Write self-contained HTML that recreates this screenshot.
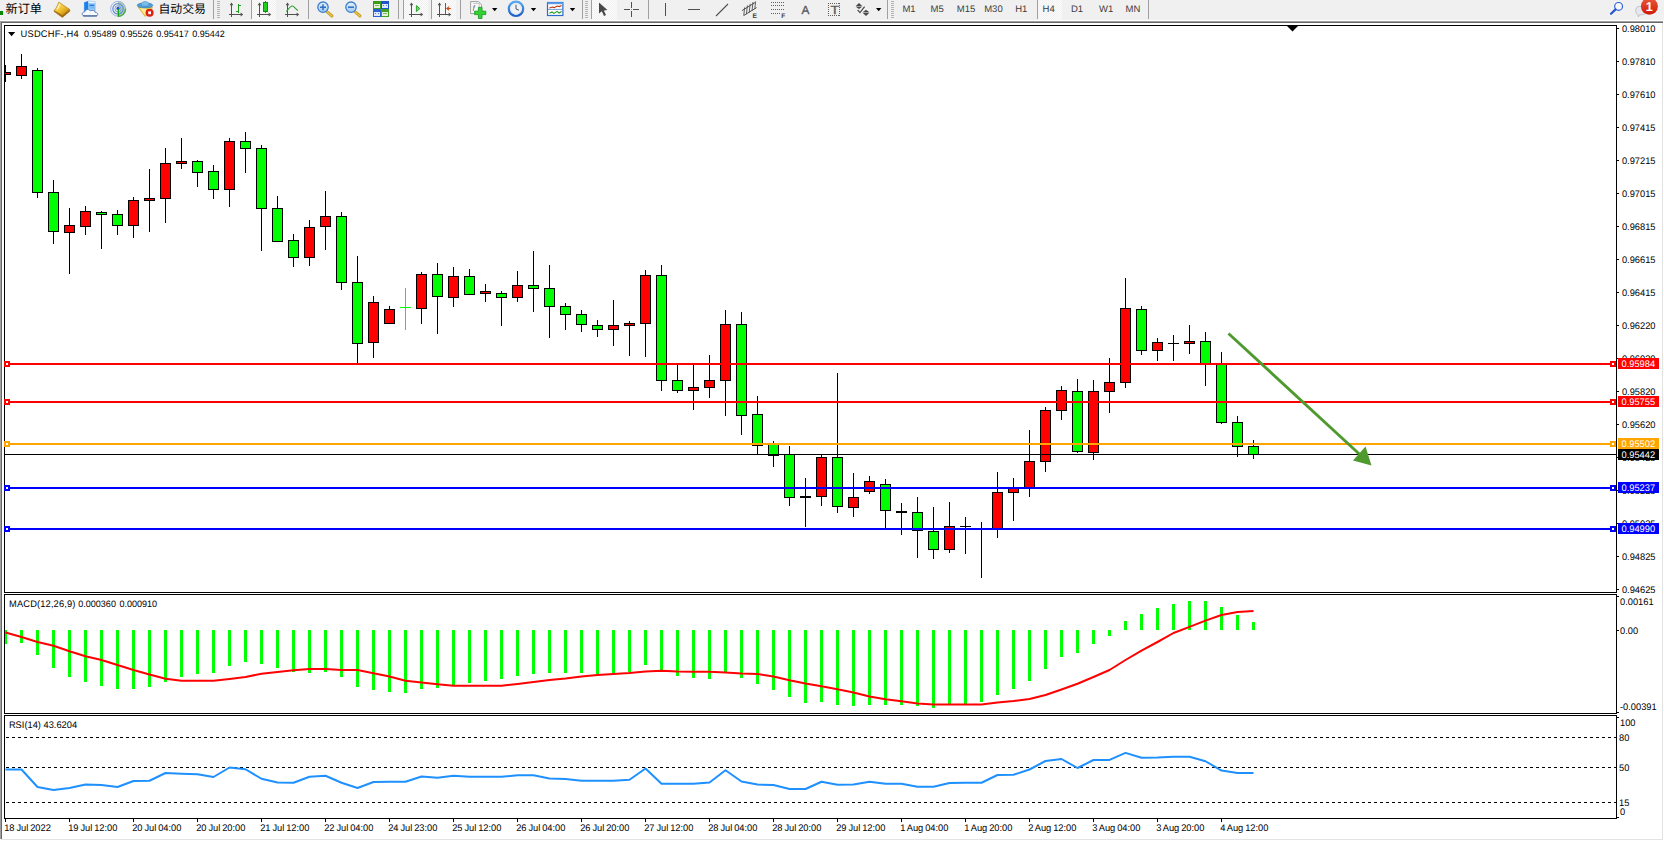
<!DOCTYPE html>
<html lang="zh-CN"><head><meta charset="utf-8"><title>USDCHF-,H4</title>
<style>html,body{margin:0;padding:0;background:#fff;overflow:hidden}svg{display:block}text{font-family:"Liberation Sans","Noto Sans CJK SC",sans-serif;white-space:pre;text-rendering:geometricPrecision}.cr{shape-rendering:crispEdges}</style></head><body>
<svg width="1664" height="841" viewBox="0 0 1664 841">
<g class="cr">
<rect x="0" y="0" width="1664" height="841" fill="#ffffff"/>
<rect x="0" y="0" width="1664" height="20" fill="#f0f0f0"/>
<rect x="0" y="20" width="1664" height="1" fill="#ffffff"/>
<rect x="0" y="21" width="1663" height="1" fill="#a0a0a0"/>
<rect x="0" y="22" width="1" height="817" fill="#a0a0a0"/>
<rect x="1" y="22" width="1662" height="1" fill="#696969"/>
<rect x="1" y="22" width="1" height="817" fill="#696969"/>
<rect x="1662" y="23" width="1" height="817" fill="#e3e3e3"/>
<rect x="1" y="839" width="1662" height="1" fill="#e3e3e3"/>
</g>
<g id="toolbar">
<defs>
<linearGradient id="gGold" x1="0" y1="0" x2="1" y2="1"><stop offset="0" stop-color="#fff2a8"/><stop offset=".5" stop-color="#f2c12e"/><stop offset="1" stop-color="#b97a08"/></linearGradient>
<linearGradient id="gBlue" x1="0" y1="0" x2="0" y2="1"><stop offset="0" stop-color="#5aa7ee"/><stop offset="1" stop-color="#1b5fc4"/></linearGradient>
<linearGradient id="gRed" x1="0" y1="0" x2="0" y2="1"><stop offset="0" stop-color="#ea5a3a"/><stop offset="1" stop-color="#d01808"/></linearGradient>
<linearGradient id="gLens" x1="0" y1="0" x2="0" y2="1"><stop offset="0" stop-color="#e8f3fd"/><stop offset="1" stop-color="#9fc9f1"/></linearGradient>
<pattern id="sel" width="2" height="2" patternUnits="userSpaceOnUse"><rect width="2" height="2" fill="#fcfcfc"/><rect width="1" height="1" fill="#f1f1f1"/><rect x="1" y="1" width="1" height="1" fill="#f1f1f1"/></pattern>
</defs>
<!-- selected button backgrounds -->
<g class="cr">
<rect x="252" y="0" width="24" height="20" fill="url(#sel)"/>
<rect x="404" y="0" width="24" height="20" fill="url(#sel)"/>
<rect x="432" y="0" width="24" height="20" fill="url(#sel)"/>
<rect x="592" y="0" width="25" height="20" fill="url(#sel)"/>
<rect x="1038" y="0" width="24" height="20" fill="url(#sel)"/>
<!-- separators -->
<g fill="#a0a0a0">
<rect x="213" y="0" width="1" height="19"/>
<rect x="251" y="0" width="1" height="19"/>
<rect x="308" y="0" width="1" height="19"/>
<rect x="398" y="0" width="1" height="19"/>
<rect x="403" y="0" width="1" height="19"/>
<rect x="431" y="0" width="1" height="19"/>
<rect x="460" y="0" width="1" height="19"/>
<rect x="582" y="0" width="1" height="19"/>
<rect x="591" y="0" width="1" height="19"/>
<rect x="648" y="0" width="1" height="19"/>
<rect x="887" y="0" width="1" height="19"/>
<rect x="1037" y="0" width="1" height="19"/>
<rect x="1148" y="0" width="1" height="19"/>
</g>
<!-- grips -->
<g fill="#b4b4b4">
<rect x="217" y="1" width="3" height="1"/><rect x="217" y="3" width="3" height="1"/><rect x="217" y="5" width="3" height="1"/><rect x="217" y="7" width="3" height="1"/><rect x="217" y="9" width="3" height="1"/><rect x="217" y="11" width="3" height="1"/><rect x="217" y="13" width="3" height="1"/><rect x="217" y="15" width="3" height="1"/><rect x="217" y="17" width="3" height="1"/>
<rect x="585" y="1" width="3" height="1"/><rect x="585" y="3" width="3" height="1"/><rect x="585" y="5" width="3" height="1"/><rect x="585" y="7" width="3" height="1"/><rect x="585" y="9" width="3" height="1"/><rect x="585" y="11" width="3" height="1"/><rect x="585" y="13" width="3" height="1"/><rect x="585" y="15" width="3" height="1"/><rect x="585" y="17" width="3" height="1"/>
<rect x="891" y="1" width="3" height="1"/><rect x="891" y="3" width="3" height="1"/><rect x="891" y="5" width="3" height="1"/><rect x="891" y="7" width="3" height="1"/><rect x="891" y="9" width="3" height="1"/><rect x="891" y="11" width="3" height="1"/><rect x="891" y="13" width="3" height="1"/><rect x="891" y="15" width="3" height="1"/><rect x="891" y="17" width="3" height="1"/>
</g>
</g>
<!-- new order (cut off) -->
<rect class="cr" x="0" y="11" width="3" height="4" fill="#078a07"/>
<text x="5.5" y="13.1" font-size="12.2" fill="#000">新订单</text>
<!-- gold book -->
<g>
<path d="M54.2 11.6 L62.4 17.4 L69.8 11.2 L69.6 9.4 L62.2 15 L54.4 10.2 Z" fill="#a86c0a" stroke="#8a5606" stroke-width=".5" stroke-linejoin="round"/>
<path d="M54.2 10.6 C56.2 8.6 57.6 5 58.8 2.2 L69.6 9.4 L62.3 15.2 Z" fill="url(#gGold)" stroke="#b07a0c" stroke-width=".7" stroke-linejoin="round"/>
<path d="M57 9.4 C58.2 7.6 59 5.6 59.8 3.8" stroke="#fff6c8" stroke-width="1.3" fill="none" opacity=".85"/>
</g>
<!-- server / cloud -->
<g>
<path d="M84.4 2.6 L88.2 1.2 L95 1.6 L95 11.6 L84.4 11.6 Z" fill="#9ccdf6" stroke="#2d7fe0" stroke-width=".5"/>
<path d="M84.4 2.6 L88.2 1.2 L88.2 11.6 L84.4 11.6 Z" fill="#1580ee"/>
<path d="M88.2 1.2 L95 1.6 L95 3.2 L88.2 2.8 Z" fill="#e8f4ff"/>
<rect x="89.4" y="4.6" width="4.6" height="1.6" fill="#2a78d8"/>
<rect x="89.4" y="7.4" width="4.6" height="1" fill="#6aa8e8"/>
<path d="M85 16.2 C81.2 16.2 81.4 11.8 84.8 11.8 C85.4 9 89.4 8.8 90.4 11 C92.2 9.6 95 10.4 95.2 12.4 C98.6 12.4 98.6 16.2 95.4 16.2 Z" fill="#f6f9fe" stroke="#5878b0" stroke-width=".9"/>
<path d="M83 15.8 L97 15.8" stroke="#3e5e9c" stroke-width="1"/>
</g>
<!-- signal -->
<g fill="none">
<path d="M118 8.8 L118 16.6 A7.8 7.8 0 0 0 125.8 8.8 A7.8 7.8 0 0 0 118 1 Z" fill="#7fba7f" opacity=".55" stroke="none"/>
<circle cx="118" cy="8.8" r="7.4" stroke="#9fb4dc" stroke-width="1"/>
<circle cx="118" cy="8.8" r="5.2" stroke="#5f8ad8" stroke-width="1.2"/>
<circle cx="118" cy="8.8" r="3.1" stroke="#7fa0e0" stroke-width="1"/>
<path d="M118 16.4 A7.6 7.6 0 0 0 125.6 8.8" stroke="#4aa84a" stroke-width="1.4"/>
<circle cx="118" cy="8.4" r="1.6" fill="#1f56cc" stroke="none"/>
<path d="M118.3 9 L118.3 16.6" stroke="#18a418" stroke-width="1.4"/>
</g>
<!-- expert hat -->
<g>
<path d="M138.2 7.2 L145.2 16.6 L152.6 7.6 Z" fill="#f6d84a" stroke="#caa018" stroke-width=".6"/>
<path d="M140 8 L145.4 15 L146 8 Z" fill="#fff3a8" opacity=".8"/>
<ellipse cx="145" cy="5.4" rx="7.8" ry="2.6" fill="#4f9fd8" stroke="#2f74b4" stroke-width=".6"/>
<path d="M141.2 5.2 C141.2 .2 149 .2 149 5.2 C147 6.4 143 6.4 141.2 5.2 Z" fill="#7dbdea" stroke="#3c82c4" stroke-width=".5"/>
<circle cx="149.6" cy="12.8" r="4" fill="#dc2010"/>
<rect x="148.2" y="11.4" width="2.8" height="2.8" fill="#fff"/>
</g>
<text x="158.4" y="13.1" font-size="11.9" fill="#000">自动交易</text>
<!-- chart type icons -->
<g class="cr">
<g fill="#505050">
<rect x="231" y="4" width="1" height="13"/><rect x="229" y="14" width="13" height="1"/>
<rect x="259" y="4" width="1" height="13"/><rect x="257" y="14" width="13" height="1"/>
<rect x="287" y="4" width="1" height="13"/><rect x="285" y="14" width="13" height="1"/>
<rect x="411" y="4" width="1" height="13"/><rect x="409" y="14" width="13" height="1"/>
<rect x="439" y="4" width="1" height="13"/><rect x="437" y="14" width="13" height="1"/>
</g>
<g fill="#1e9e1e">
<rect x="238" y="4" width="1" height="9"/><rect x="238" y="5" width="3" height="1"/><rect x="236" y="11" width="3" height="1"/>
<rect x="265" y="1" width="1" height="12"/>
</g>
<rect x="263.5" y="2.5" width="4" height="9" fill="#1ed01e" stroke="#138a13" stroke-width="1"/>
<rect x="445" y="3" width="1" height="11" fill="#1c6fb0"/>
</g>
<g fill="#505050">
<path d="M231.5 2.6 L229.6 5.2 L233.4 5.2 Z"/><path d="M243.2 14.5 L240.6 12.6 L240.6 16.4 Z"/>
<path d="M259.5 2.6 L257.6 5.2 L261.4 5.2 Z"/><path d="M271.2 14.5 L268.6 12.6 L268.6 16.4 Z"/>
<path d="M287.5 2.6 L285.6 5.2 L289.4 5.2 Z"/><path d="M299.2 14.5 L296.6 12.6 L296.6 16.4 Z"/>
<path d="M411.5 2.6 L409.6 5.2 L413.4 5.2 Z"/><path d="M423.2 14.5 L420.6 12.6 L420.6 16.4 Z"/>
<path d="M439.5 2.6 L437.6 5.2 L441.4 5.2 Z"/><path d="M451.2 14.5 L448.6 12.6 L448.6 16.4 Z"/>
</g>
<path d="M286.4 11.6 C289 8 291 5.6 292.6 6 C294.4 6.4 295.6 9 298 10.4" fill="none" stroke="#2a9a2a" stroke-width="1.1"/>
<path d="M416.4 5.6 L419.8 8.6 L416.4 11.6 Z" fill="#6fd86f" stroke="#1e9e1e" stroke-width=".9"/>
<path d="M450.8 8.5 L446.8 8.5 M449.2 6.6 L446.8 8.5 L449.2 10.4" fill="none" stroke="#d04a10" stroke-width="1.1"/>
<!-- zoom in / out -->
<g>
<path d="M326.6 11.4 L332 16" stroke="#c9a227" stroke-width="3" stroke-linecap="round"/>
<path d="M326.6 11.4 L332 16" stroke="#f0d56a" stroke-width="1" stroke-linecap="round"/>
<circle cx="323" cy="7.2" r="5.2" fill="url(#gLens)" stroke="#3a7fcf" stroke-width="1.3"/>
<path d="M320 7.2 L326 7.2 M323 4.2 L323 10.2" stroke="#2a6fc4" stroke-width="1.5"/>
<path d="M354.6 11.4 L360 16" stroke="#c9a227" stroke-width="3" stroke-linecap="round"/>
<path d="M354.6 11.4 L360 16" stroke="#f0d56a" stroke-width="1" stroke-linecap="round"/>
<circle cx="351" cy="7.2" r="5.2" fill="url(#gLens)" stroke="#3a7fcf" stroke-width="1.3"/>
<path d="M348 7.2 L354 7.2" stroke="#2a6fc4" stroke-width="1.5"/>
</g>
<!-- tile windows -->
<g class="cr">
<rect x="373" y="1" width="8" height="8" fill="#3a9a1a"/><rect x="381" y="1" width="8" height="8" fill="#1f55c8"/>
<rect x="373" y="9" width="8" height="8" fill="#2a62d4"/><rect x="381" y="9" width="8" height="8" fill="#3f9f1f"/>
<rect x="374" y="4" width="6" height="4" fill="#e4f2dc"/><rect x="382" y="4" width="6" height="4" fill="#dfe8fa"/>
<rect x="374" y="12" width="6" height="4" fill="#dfe8fa"/><rect x="382" y="12" width="6" height="4" fill="#e4f2dc"/>
<rect x="375" y="5" width="4" height="1" fill="#7ab868"/><rect x="383" y="5" width="1" height="1" fill="#5a80d8"/><rect x="386" y="5" width="1" height="1" fill="#5a80d8"/>
<rect x="375" y="13" width="1" height="1" fill="#5a80d8"/><rect x="378" y="13" width="1" height="1" fill="#5a80d8"/><rect x="383" y="13" width="4" height="1" fill="#7ab868"/>
</g>
<!-- indicators (doc + plus) -->
<g>
<path d="M470.6 1.6 L478.4 1.6 L481.6 4.8 L481.6 13.6 L470.6 13.6 Z" fill="#f8f8f8" stroke="#8a8a8a" stroke-width=".8"/>
<path d="M473.4 3.4 L479.2 3.4 L479.2 12" fill="none" stroke="#b0b0b0" stroke-width=".7"/>
<text x="472.4" y="11" font-size="8" fill="#666" font-style="italic">f</text>
<path d="M474.6 11.2 H478.4 V7.4 H482 V11.2 H485.8 V14.6 H482 V18.4 H478.4 V14.6 H474.6 Z" fill="#2fd42f" stroke="#12941a" stroke-width=".8" stroke-linejoin="round"/>
</g>
<!-- dropdown arrows -->
<g fill="#000">
<path d="M492 8.1 L497.4 8.1 L494.7 11.3 Z"/>
<path d="M530.8 8.1 L536.2 8.1 L533.5 11.3 Z"/>
<path d="M569.8 8.1 L575.2 8.1 L572.5 11.3 Z"/>
<path d="M876 8.1 L881.4 8.1 L878.7 11.3 Z"/>
</g>
<!-- clock -->
<g>
<circle cx="516" cy="8.8" r="7.2" fill="#f4f8fc" stroke="url(#gBlue)" stroke-width="2.2"/>
<circle cx="516" cy="8.8" r="5.4" fill="#eef3f9" stroke="#c8d4e4" stroke-width=".5"/>
<path d="M516 4.8 L516 9 L519 10.2" fill="none" stroke="#555" stroke-width="1"/>
</g>
<!-- templates -->
<g>
<rect x="547.5" y="2.5" width="15.4" height="13" fill="#fff" stroke="#2a6ccc" stroke-width="1.2"/>
<rect x="547.5" y="2.2" width="15.4" height="2" fill="#5a9ae6"/>
<path d="M548 9.4 L563 9.4" stroke="#4a86d6" stroke-width=".8"/>
<path d="M549.4 8 L552.4 7 L554.4 7.6 L557 6 L559.4 6.6 L561.6 5.6" fill="none" stroke="#c0300c" stroke-width="1.1"/>
<path d="M549.4 13.2 L552 12 L554 13.4 L557 11.4 L559 13 L561.6 11.6" fill="none" stroke="#1e9e1e" stroke-width="1.1"/>
</g>
<!-- cursor -->
<path d="M599 2.4 L599 13.6 L601.8 11.2 L604 16 L606 15 L603.8 10.4 L607.4 10 Z" fill="#484848"/>
<!-- crosshair -->
<g class="cr" fill="#505050">
<rect x="631" y="2" width="1" height="6"/><rect x="631" y="11" width="1" height="6"/>
<rect x="624" y="9" width="6" height="1"/><rect x="633" y="9" width="6" height="1"/>
<rect x="631" y="9" width="1" height="1" fill="#909090"/>
<rect x="665" y="3" width="1" height="13"/>
<rect x="688" y="9" width="12" height="1"/>
</g>
<path d="M716 16 L728 4" stroke="#505050" stroke-width="1.1" fill="none"/>
<!-- channel -->
<g stroke="#505050" stroke-width="1" fill="none">
<path d="M742 10.6 L755 2.6 M743.6 15.6 L756.6 7.6"/>
<path d="M744.6 7.4 L743.8 15.4 M747.4 5.4 L746.4 14.2 M750.2 3.8 L749.2 12.6 M753 2 L752 11 M755.6 1.4 L754.8 9" stroke-width=".9"/>
</g>
<text x="752.6" y="18" font-size="6.6" font-weight="bold" fill="#404040">E</text>
<!-- fibo -->
<g class="cr" stroke="#606060" stroke-width="1" stroke-dasharray="1 1" fill="none">
<line x1="771" y1="2.5" x2="784" y2="2.5"/><line x1="771" y1="5.5" x2="784" y2="5.5"/><line x1="771" y1="9.5" x2="784" y2="9.5"/><line x1="771" y1="13.5" x2="781" y2="13.5"/>
</g>
<text x="781.2" y="18" font-size="6.6" font-weight="bold" fill="#404040">F</text>
<!-- A / T -->
<text x="801.4" y="13.7" font-size="11.8" fill="#585858" stroke="#585858" stroke-width=".3">A</text>
<g class="cr" stroke="#606060" stroke-width="1" stroke-dasharray="1 1" fill="none"><line x1="828" y1="3.5" x2="840" y2="3.5"/><line x1="828" y1="15.5" x2="840" y2="15.5"/><line x1="828.5" y1="3" x2="828.5" y2="16"/><line x1="839.5" y1="3" x2="839.5" y2="16"/></g>
<text x="830.4" y="13.5" font-size="11.8" fill="#585858" stroke="#585858" stroke-width=".3" textLength="8.6" lengthAdjust="spacingAndGlyphs">T</text>
<!-- arrows object -->
<g fill="#484848">
<path d="M859 3 L862.4 6.2 L855.6 6.2 Z"/><path d="M855.6 6.8 L862.4 6.8 L859 9.4 Z" opacity=".0"/>
<path d="M866 16 L862.6 12.8 L869.4 12.8 Z"/><path d="M862.6 12.2 L869.4 12.2 L866 9.8 Z"/>
<path d="M855.8 6.8 L862.2 6.8 L859 9 Z"/>
<path d="M857.6 9.8 L860 12.6 L864.6 6.6" fill="none" stroke="#484848" stroke-width="1.2"/>
</g>
<!-- timeframes -->
<g font-size="9.5" fill="#3c3c3c">
<text x="902.4" y="12.4">M1</text>
<text x="930.6" y="12.4">M5</text>
<text x="956.8" y="12.4">M15</text>
<text x="984.2" y="12.4">M30</text>
<text x="1015.2" y="12.4">H1</text>
<text x="1042.6" y="12.4">H4</text>
<text x="1071" y="12.4">D1</text>
<text x="1099" y="12.4">W1</text>
<text x="1125.6" y="12.4">MN</text>
</g>
<!-- search -->
<g>
<circle cx="1618.6" cy="6.4" r="3.9" fill="#f6f8fc" stroke="#2a5fd8" stroke-width="1.2"/>
<path d="M1615.6 9.4 L1611 13.8" stroke="#2456cc" stroke-width="2.2" stroke-linecap="round"/>
</g>
<!-- chat + badge -->
<g>
<path d="M1636.4 8 C1637 5.6 1646 5.6 1646.6 9 L1646.6 12 C1646 14.6 1641 15 1639.6 14.8 L1638.4 17 L1637.8 14.6 C1635.4 13.6 1635.4 10 1636.4 8 Z" fill="#e6e8ee" stroke="#b4b8c2" stroke-width=".8"/>
<circle cx="1649.4" cy="6.2" r="8.5" fill="url(#gRed)"/>
<text x="1649.2" y="11" font-size="12.6" font-weight="bold" fill="#fff" text-anchor="middle">1</text>
</g>
</g>

<g class="cr" fill="#000">
<rect x="4" y="25" width="1613" height="1" fill="#000"/>
<rect x="4" y="25" width="1" height="568" fill="#000"/>
<rect x="4" y="592" width="1613" height="1" fill="#000"/>
<rect x="1616" y="25" width="1" height="568" fill="#000"/>
<rect x="4" y="594" width="1613" height="1" fill="#000"/>
<rect x="4" y="594" width="1" height="120" fill="#000"/>
<rect x="4" y="713" width="1613" height="1" fill="#000"/>
<rect x="1616" y="594" width="1" height="120" fill="#000"/>
<rect x="4" y="715" width="1613" height="1" fill="#000"/>
<rect x="4" y="715" width="1" height="104" fill="#000"/>
<rect x="4" y="818" width="1613" height="1" fill="#000"/>
<rect x="1616" y="715" width="1" height="104" fill="#000"/>
</g>
<g class="cr">
<rect x="1617" y="28" width="2" height="1" fill="#000"/>
<rect x="1617" y="61" width="2" height="1" fill="#000"/>
<rect x="1617" y="94" width="2" height="1" fill="#000"/>
<rect x="1617" y="127" width="2" height="1" fill="#000"/>
<rect x="1617" y="160" width="2" height="1" fill="#000"/>
<rect x="1617" y="193" width="2" height="1" fill="#000"/>
<rect x="1617" y="226" width="2" height="1" fill="#000"/>
<rect x="1617" y="259" width="2" height="1" fill="#000"/>
<rect x="1617" y="292" width="2" height="1" fill="#000"/>
<rect x="1617" y="325" width="2" height="1" fill="#000"/>
<rect x="1617" y="358" width="2" height="1" fill="#000"/>
<rect x="1617" y="391" width="2" height="1" fill="#000"/>
<rect x="1617" y="424" width="2" height="1" fill="#000"/>
<rect x="1617" y="457" width="2" height="1" fill="#000"/>
<rect x="1617" y="490" width="2" height="1" fill="#000"/>
<rect x="1617" y="523" width="2" height="1" fill="#000"/>
<rect x="1617" y="556" width="2" height="1" fill="#000"/>
<rect x="1617" y="589" width="2" height="1" fill="#000"/>
<rect x="1617" y="596" width="2" height="1" fill="#000"/>
<rect x="1617" y="630" width="2" height="1" fill="#000"/>
<rect x="1617" y="712" width="2" height="1" fill="#000"/>
<rect x="1617" y="717" width="2" height="1" fill="#000"/>
<rect x="1617" y="817" width="2" height="1" fill="#000"/>
</g>
<g>
<text transform="translate(1621.9 31.8) scale(1 1.03)" font-size="9.3" fill="#000" text-anchor="start">0.98010</text>
<text transform="translate(1621.9 64.8) scale(1 1.03)" font-size="9.3" fill="#000" text-anchor="start">0.97810</text>
<text transform="translate(1621.9 97.8) scale(1 1.03)" font-size="9.3" fill="#000" text-anchor="start">0.97610</text>
<text transform="translate(1621.9 130.8) scale(1 1.03)" font-size="9.3" fill="#000" text-anchor="start">0.97415</text>
<text transform="translate(1621.9 163.8) scale(1 1.03)" font-size="9.3" fill="#000" text-anchor="start">0.97215</text>
<text transform="translate(1621.9 196.8) scale(1 1.03)" font-size="9.3" fill="#000" text-anchor="start">0.97015</text>
<text transform="translate(1621.9 229.8) scale(1 1.03)" font-size="9.3" fill="#000" text-anchor="start">0.96815</text>
<text transform="translate(1621.9 262.8) scale(1 1.03)" font-size="9.3" fill="#000" text-anchor="start">0.96615</text>
<text transform="translate(1621.9 295.8) scale(1 1.03)" font-size="9.3" fill="#000" text-anchor="start">0.96415</text>
<text transform="translate(1621.9 328.8) scale(1 1.03)" font-size="9.3" fill="#000" text-anchor="start">0.96220</text>
<text transform="translate(1621.9 361.8) scale(1 1.03)" font-size="9.3" fill="#000" text-anchor="start">0.96020</text>
<text transform="translate(1621.9 394.8) scale(1 1.03)" font-size="9.3" fill="#000" text-anchor="start">0.95820</text>
<text transform="translate(1621.9 427.8) scale(1 1.03)" font-size="9.3" fill="#000" text-anchor="start">0.95620</text>
<text transform="translate(1621.9 460.8) scale(1 1.03)" font-size="9.3" fill="#000" text-anchor="start">0.95425</text>
<text transform="translate(1621.9 493.8) scale(1 1.03)" font-size="9.3" fill="#000" text-anchor="start">0.95225</text>
<text transform="translate(1621.9 526.8) scale(1 1.03)" font-size="9.3" fill="#000" text-anchor="start">0.95025</text>
<text transform="translate(1621.9 559.8) scale(1 1.03)" font-size="9.3" fill="#000" text-anchor="start">0.94825</text>
<text transform="translate(1621.9 592.8) scale(1 1.03)" font-size="9.3" fill="#000" text-anchor="start">0.94625</text>
<text transform="translate(1620.0 605) scale(1 1.03)" font-size="9.3" fill="#000" text-anchor="start">0.00161</text>
<text transform="translate(1620.0 633.8) scale(1 1.03)" font-size="9.3" fill="#000" text-anchor="start">0.00</text>
<text transform="translate(1620.0 709.9) scale(1 1.03)" font-size="9.3" fill="#000" text-anchor="start">-0.00391</text>
<text transform="translate(1620.0 725.8) scale(1 1.03)" font-size="9.3" fill="#000" text-anchor="start">100</text>
<text transform="translate(1619 740.8) scale(1 1.03)" font-size="9.3" fill="#000" text-anchor="start">80</text>
<text transform="translate(1619 770.8) scale(1 1.03)" font-size="9.3" fill="#000" text-anchor="start">50</text>
<text transform="translate(1619 805.9) scale(1 1.03)" font-size="9.3" fill="#000" text-anchor="start">15</text>
<text transform="translate(1620.0 814.8) scale(1 1.03)" font-size="9.3" fill="#000" text-anchor="start">0</text>
</g>
<g class="cr">
<rect x="5" y="819" width="1" height="3" fill="#000"/>
<rect x="69" y="819" width="1" height="3" fill="#000"/>
<rect x="133" y="819" width="1" height="3" fill="#000"/>
<rect x="197" y="819" width="1" height="3" fill="#000"/>
<rect x="261" y="819" width="1" height="3" fill="#000"/>
<rect x="325" y="819" width="1" height="3" fill="#000"/>
<rect x="389" y="819" width="1" height="3" fill="#000"/>
<rect x="453" y="819" width="1" height="3" fill="#000"/>
<rect x="517" y="819" width="1" height="3" fill="#000"/>
<rect x="581" y="819" width="1" height="3" fill="#000"/>
<rect x="645" y="819" width="1" height="3" fill="#000"/>
<rect x="709" y="819" width="1" height="3" fill="#000"/>
<rect x="773" y="819" width="1" height="3" fill="#000"/>
<rect x="837" y="819" width="1" height="3" fill="#000"/>
<rect x="901" y="819" width="1" height="3" fill="#000"/>
<rect x="965" y="819" width="1" height="3" fill="#000"/>
<rect x="1029" y="819" width="1" height="3" fill="#000"/>
<rect x="1093" y="819" width="1" height="3" fill="#000"/>
<rect x="1157" y="819" width="1" height="3" fill="#000"/>
<rect x="1221" y="819" width="1" height="3" fill="#000"/>
</g>
<g>
<text transform="translate(4.2 830.9) scale(1 1.03)" font-size="9.3" fill="#000" text-anchor="start" word-spacing="-0.7">18 Jul 2022</text>
<text transform="translate(68.2 830.9) scale(1 1.03)" font-size="9.3" fill="#000" text-anchor="start" word-spacing="-0.7">19 Jul 12:00</text>
<text transform="translate(132.2 830.9) scale(1 1.03)" font-size="9.3" fill="#000" text-anchor="start" word-spacing="-0.7">20 Jul 04:00</text>
<text transform="translate(196.2 830.9) scale(1 1.03)" font-size="9.3" fill="#000" text-anchor="start" word-spacing="-0.7">20 Jul 20:00</text>
<text transform="translate(260.2 830.9) scale(1 1.03)" font-size="9.3" fill="#000" text-anchor="start" word-spacing="-0.7">21 Jul 12:00</text>
<text transform="translate(324.2 830.9) scale(1 1.03)" font-size="9.3" fill="#000" text-anchor="start" word-spacing="-0.7">22 Jul 04:00</text>
<text transform="translate(388.2 830.9) scale(1 1.03)" font-size="9.3" fill="#000" text-anchor="start" word-spacing="-0.7">24 Jul 23:00</text>
<text transform="translate(452.2 830.9) scale(1 1.03)" font-size="9.3" fill="#000" text-anchor="start" word-spacing="-0.7">25 Jul 12:00</text>
<text transform="translate(516.2 830.9) scale(1 1.03)" font-size="9.3" fill="#000" text-anchor="start" word-spacing="-0.7">26 Jul 04:00</text>
<text transform="translate(580.2 830.9) scale(1 1.03)" font-size="9.3" fill="#000" text-anchor="start" word-spacing="-0.7">26 Jul 20:00</text>
<text transform="translate(644.2 830.9) scale(1 1.03)" font-size="9.3" fill="#000" text-anchor="start" word-spacing="-0.7">27 Jul 12:00</text>
<text transform="translate(708.2 830.9) scale(1 1.03)" font-size="9.3" fill="#000" text-anchor="start" word-spacing="-0.7">28 Jul 04:00</text>
<text transform="translate(772.2 830.9) scale(1 1.03)" font-size="9.3" fill="#000" text-anchor="start" word-spacing="-0.7">28 Jul 20:00</text>
<text transform="translate(836.2 830.9) scale(1 1.03)" font-size="9.3" fill="#000" text-anchor="start" word-spacing="-0.7">29 Jul 12:00</text>
<text transform="translate(900.2 830.9) scale(1 1.03)" font-size="9.3" fill="#000" text-anchor="start" word-spacing="-0.7">1 Aug 04:00</text>
<text transform="translate(964.2 830.9) scale(1 1.03)" font-size="9.3" fill="#000" text-anchor="start" word-spacing="-0.7">1 Aug 20:00</text>
<text transform="translate(1028.2 830.9) scale(1 1.03)" font-size="9.3" fill="#000" text-anchor="start" word-spacing="-0.7">2 Aug 12:00</text>
<text transform="translate(1092.2 830.9) scale(1 1.03)" font-size="9.3" fill="#000" text-anchor="start" word-spacing="-0.7">3 Aug 04:00</text>
<text transform="translate(1156.2 830.9) scale(1 1.03)" font-size="9.3" fill="#000" text-anchor="start" word-spacing="-0.7">3 Aug 20:00</text>
<text transform="translate(1220.2 830.9) scale(1 1.03)" font-size="9.3" fill="#000" text-anchor="start" word-spacing="-0.7">4 Aug 12:00</text>
</g>
<g class="cr">
<rect x="5" y="65" width="1" height="17" fill="#000"/>
<rect x="5" y="72" width="6" height="3" fill="#000"/>
<rect x="5" y="73" width="5" height="1" fill="#ff0000"/>
<rect x="21" y="54" width="1" height="25" fill="#000"/>
<rect x="16" y="66" width="11" height="10" fill="#000"/>
<rect x="17" y="67" width="9" height="8" fill="#ff0000"/>
<rect x="37" y="68" width="1" height="130" fill="#000"/>
<rect x="32" y="70" width="11" height="123" fill="#000"/>
<rect x="33" y="71" width="9" height="121" fill="#00ff00"/>
<rect x="53" y="180" width="1" height="64" fill="#000"/>
<rect x="48" y="192" width="11" height="40" fill="#000"/>
<rect x="49" y="193" width="9" height="38" fill="#00ff00"/>
<rect x="69" y="208" width="1" height="66" fill="#000"/>
<rect x="64" y="225" width="11" height="8" fill="#000"/>
<rect x="65" y="226" width="9" height="6" fill="#ff0000"/>
<rect x="85" y="206" width="1" height="29" fill="#000"/>
<rect x="80" y="211" width="11" height="16" fill="#000"/>
<rect x="81" y="212" width="9" height="14" fill="#ff0000"/>
<rect x="101" y="211" width="1" height="38" fill="#000"/>
<rect x="96" y="212" width="11" height="3" fill="#000"/>
<rect x="97" y="213" width="9" height="1" fill="#00ff00"/>
<rect x="117" y="210" width="1" height="25" fill="#000"/>
<rect x="112" y="214" width="11" height="12" fill="#000"/>
<rect x="113" y="215" width="9" height="10" fill="#00ff00"/>
<rect x="133" y="197" width="1" height="41" fill="#000"/>
<rect x="128" y="200" width="11" height="26" fill="#000"/>
<rect x="129" y="201" width="9" height="24" fill="#ff0000"/>
<rect x="149" y="169" width="1" height="63" fill="#000"/>
<rect x="144" y="198" width="11" height="3" fill="#000"/>
<rect x="145" y="199" width="9" height="1" fill="#ff0000"/>
<rect x="165" y="148" width="1" height="75" fill="#000"/>
<rect x="160" y="163" width="11" height="36" fill="#000"/>
<rect x="161" y="164" width="9" height="34" fill="#ff0000"/>
<rect x="181" y="138" width="1" height="31" fill="#000"/>
<rect x="176" y="161" width="11" height="3" fill="#000"/>
<rect x="177" y="162" width="9" height="1" fill="#ff0000"/>
<rect x="197" y="160" width="1" height="27" fill="#000"/>
<rect x="192" y="161" width="11" height="12" fill="#000"/>
<rect x="193" y="162" width="9" height="10" fill="#00ff00"/>
<rect x="213" y="165" width="1" height="34" fill="#000"/>
<rect x="208" y="171" width="11" height="19" fill="#000"/>
<rect x="209" y="172" width="9" height="17" fill="#00ff00"/>
<rect x="229" y="138" width="1" height="69" fill="#000"/>
<rect x="224" y="141" width="11" height="49" fill="#000"/>
<rect x="225" y="142" width="9" height="47" fill="#ff0000"/>
<rect x="245" y="132" width="1" height="41" fill="#000"/>
<rect x="240" y="141" width="11" height="8" fill="#000"/>
<rect x="241" y="142" width="9" height="6" fill="#00ff00"/>
<rect x="261" y="145" width="1" height="106" fill="#000"/>
<rect x="256" y="148" width="11" height="61" fill="#000"/>
<rect x="257" y="149" width="9" height="59" fill="#00ff00"/>
<rect x="277" y="196" width="1" height="46" fill="#000"/>
<rect x="272" y="208" width="11" height="34" fill="#000"/>
<rect x="273" y="209" width="9" height="32" fill="#00ff00"/>
<rect x="293" y="234" width="1" height="33" fill="#000"/>
<rect x="288" y="240" width="11" height="18" fill="#000"/>
<rect x="289" y="241" width="9" height="16" fill="#00ff00"/>
<rect x="309" y="220" width="1" height="46" fill="#000"/>
<rect x="304" y="227" width="11" height="31" fill="#000"/>
<rect x="305" y="228" width="9" height="29" fill="#ff0000"/>
<rect x="325" y="191" width="1" height="59" fill="#000"/>
<rect x="320" y="216" width="11" height="11" fill="#000"/>
<rect x="321" y="217" width="9" height="9" fill="#ff0000"/>
<rect x="341" y="212" width="1" height="78" fill="#000"/>
<rect x="336" y="216" width="11" height="67" fill="#000"/>
<rect x="337" y="217" width="9" height="65" fill="#00ff00"/>
<rect x="357" y="256" width="1" height="107" fill="#000"/>
<rect x="352" y="282" width="11" height="62" fill="#000"/>
<rect x="353" y="283" width="9" height="60" fill="#00ff00"/>
<rect x="373" y="296" width="1" height="62" fill="#000"/>
<rect x="368" y="302" width="11" height="41" fill="#000"/>
<rect x="369" y="303" width="9" height="39" fill="#ff0000"/>
<rect x="389" y="306" width="1" height="18" fill="#000"/>
<rect x="384" y="309" width="11" height="15" fill="#000"/>
<rect x="385" y="310" width="9" height="13" fill="#ff0000"/>
<rect x="405" y="288" width="1" height="42" fill="#00ff00"/>
<rect x="400" y="307" width="11" height="1" fill="#00ff00"/>
<rect x="421" y="272" width="1" height="52" fill="#000"/>
<rect x="416" y="274" width="11" height="35" fill="#000"/>
<rect x="417" y="275" width="9" height="33" fill="#ff0000"/>
<rect x="437" y="263" width="1" height="71" fill="#000"/>
<rect x="432" y="274" width="11" height="23" fill="#000"/>
<rect x="433" y="275" width="9" height="21" fill="#00ff00"/>
<rect x="453" y="267" width="1" height="40" fill="#000"/>
<rect x="448" y="276" width="11" height="22" fill="#000"/>
<rect x="449" y="277" width="9" height="20" fill="#ff0000"/>
<rect x="469" y="269" width="1" height="26" fill="#000"/>
<rect x="464" y="276" width="11" height="19" fill="#000"/>
<rect x="465" y="277" width="9" height="17" fill="#00ff00"/>
<rect x="485" y="284" width="1" height="18" fill="#000"/>
<rect x="480" y="291" width="11" height="3" fill="#000"/>
<rect x="481" y="292" width="9" height="1" fill="#ff0000"/>
<rect x="501" y="291" width="1" height="35" fill="#000"/>
<rect x="496" y="293" width="11" height="5" fill="#000"/>
<rect x="497" y="294" width="9" height="3" fill="#00ff00"/>
<rect x="517" y="271" width="1" height="31" fill="#000"/>
<rect x="512" y="285" width="11" height="13" fill="#000"/>
<rect x="513" y="286" width="9" height="11" fill="#ff0000"/>
<rect x="533" y="251" width="1" height="61" fill="#000"/>
<rect x="528" y="285" width="11" height="4" fill="#000"/>
<rect x="529" y="286" width="9" height="2" fill="#00ff00"/>
<rect x="549" y="265" width="1" height="73" fill="#000"/>
<rect x="544" y="288" width="11" height="19" fill="#000"/>
<rect x="545" y="289" width="9" height="17" fill="#00ff00"/>
<rect x="565" y="303" width="1" height="27" fill="#000"/>
<rect x="560" y="306" width="11" height="9" fill="#000"/>
<rect x="561" y="307" width="9" height="7" fill="#00ff00"/>
<rect x="581" y="310" width="1" height="22" fill="#000"/>
<rect x="576" y="314" width="11" height="11" fill="#000"/>
<rect x="577" y="315" width="9" height="9" fill="#00ff00"/>
<rect x="597" y="320" width="1" height="17" fill="#000"/>
<rect x="592" y="325" width="11" height="5" fill="#000"/>
<rect x="593" y="326" width="9" height="3" fill="#00ff00"/>
<rect x="613" y="300" width="1" height="46" fill="#000"/>
<rect x="608" y="325" width="11" height="5" fill="#000"/>
<rect x="609" y="326" width="9" height="3" fill="#ff0000"/>
<rect x="629" y="321" width="1" height="35" fill="#000"/>
<rect x="624" y="323" width="11" height="3" fill="#000"/>
<rect x="625" y="324" width="9" height="1" fill="#ff0000"/>
<rect x="645" y="270" width="1" height="87" fill="#000"/>
<rect x="640" y="275" width="11" height="49" fill="#000"/>
<rect x="641" y="276" width="9" height="47" fill="#ff0000"/>
<rect x="661" y="265" width="1" height="126" fill="#000"/>
<rect x="656" y="275" width="11" height="106" fill="#000"/>
<rect x="657" y="276" width="9" height="104" fill="#00ff00"/>
<rect x="677" y="364" width="1" height="29" fill="#000"/>
<rect x="672" y="380" width="11" height="11" fill="#000"/>
<rect x="673" y="381" width="9" height="9" fill="#00ff00"/>
<rect x="693" y="364" width="1" height="46" fill="#000"/>
<rect x="688" y="387" width="11" height="4" fill="#000"/>
<rect x="689" y="388" width="9" height="2" fill="#ff0000"/>
<rect x="709" y="355" width="1" height="43" fill="#000"/>
<rect x="704" y="380" width="11" height="8" fill="#000"/>
<rect x="705" y="381" width="9" height="6" fill="#ff0000"/>
<rect x="725" y="310" width="1" height="106" fill="#000"/>
<rect x="720" y="324" width="11" height="57" fill="#000"/>
<rect x="721" y="325" width="9" height="55" fill="#ff0000"/>
<rect x="741" y="312" width="1" height="123" fill="#000"/>
<rect x="736" y="324" width="11" height="92" fill="#000"/>
<rect x="737" y="325" width="9" height="90" fill="#00ff00"/>
<rect x="757" y="396" width="1" height="58" fill="#000"/>
<rect x="752" y="414" width="11" height="32" fill="#000"/>
<rect x="753" y="415" width="9" height="30" fill="#00ff00"/>
<rect x="773" y="441" width="1" height="26" fill="#000"/>
<rect x="768" y="443" width="11" height="13" fill="#000"/>
<rect x="769" y="444" width="9" height="11" fill="#00ff00"/>
<rect x="789" y="446" width="1" height="60" fill="#000"/>
<rect x="784" y="454" width="11" height="44" fill="#000"/>
<rect x="785" y="455" width="9" height="42" fill="#00ff00"/>
<rect x="805" y="478" width="1" height="49" fill="#000"/>
<rect x="800" y="496" width="11" height="2" fill="#000"/>
<rect x="821" y="455" width="1" height="51" fill="#000"/>
<rect x="816" y="457" width="11" height="40" fill="#000"/>
<rect x="817" y="458" width="9" height="38" fill="#ff0000"/>
<rect x="837" y="373" width="1" height="140" fill="#000"/>
<rect x="832" y="457" width="11" height="50" fill="#000"/>
<rect x="833" y="458" width="9" height="48" fill="#00ff00"/>
<rect x="853" y="473" width="1" height="44" fill="#000"/>
<rect x="848" y="497" width="11" height="11" fill="#000"/>
<rect x="849" y="498" width="9" height="9" fill="#ff0000"/>
<rect x="869" y="476" width="1" height="18" fill="#000"/>
<rect x="864" y="481" width="11" height="11" fill="#000"/>
<rect x="865" y="482" width="9" height="9" fill="#ff0000"/>
<rect x="885" y="479" width="1" height="49" fill="#000"/>
<rect x="880" y="484" width="11" height="27" fill="#000"/>
<rect x="881" y="485" width="9" height="25" fill="#00ff00"/>
<rect x="901" y="503" width="1" height="32" fill="#000"/>
<rect x="896" y="511" width="11" height="2" fill="#000"/>
<rect x="917" y="497" width="1" height="61" fill="#000"/>
<rect x="912" y="512" width="11" height="19" fill="#000"/>
<rect x="913" y="513" width="9" height="17" fill="#00ff00"/>
<rect x="933" y="507" width="1" height="52" fill="#000"/>
<rect x="928" y="531" width="11" height="19" fill="#000"/>
<rect x="929" y="532" width="9" height="17" fill="#00ff00"/>
<rect x="949" y="502" width="1" height="51" fill="#000"/>
<rect x="944" y="526" width="11" height="24" fill="#000"/>
<rect x="945" y="527" width="9" height="22" fill="#ff0000"/>
<rect x="965" y="517" width="1" height="37" fill="#000"/>
<rect x="960" y="526" width="11" height="1" fill="#000"/>
<rect x="981" y="522" width="1" height="56" fill="#000"/>
<rect x="976" y="528" width="11" height="1" fill="#000"/>
<rect x="997" y="472" width="1" height="66" fill="#000"/>
<rect x="992" y="492" width="11" height="37" fill="#000"/>
<rect x="993" y="493" width="9" height="35" fill="#ff0000"/>
<rect x="1013" y="478" width="1" height="43" fill="#000"/>
<rect x="1008" y="487" width="11" height="6" fill="#000"/>
<rect x="1009" y="488" width="9" height="4" fill="#ff0000"/>
<rect x="1029" y="430" width="1" height="67" fill="#000"/>
<rect x="1024" y="461" width="11" height="28" fill="#000"/>
<rect x="1025" y="462" width="9" height="26" fill="#ff0000"/>
<rect x="1045" y="407" width="1" height="65" fill="#000"/>
<rect x="1040" y="410" width="11" height="52" fill="#000"/>
<rect x="1041" y="411" width="9" height="50" fill="#ff0000"/>
<rect x="1061" y="386" width="1" height="34" fill="#000"/>
<rect x="1056" y="390" width="11" height="21" fill="#000"/>
<rect x="1057" y="391" width="9" height="19" fill="#ff0000"/>
<rect x="1077" y="379" width="1" height="74" fill="#000"/>
<rect x="1072" y="391" width="11" height="61" fill="#000"/>
<rect x="1073" y="392" width="9" height="59" fill="#00ff00"/>
<rect x="1093" y="380" width="1" height="80" fill="#000"/>
<rect x="1088" y="391" width="11" height="62" fill="#000"/>
<rect x="1089" y="392" width="9" height="60" fill="#ff0000"/>
<rect x="1109" y="358" width="1" height="55" fill="#000"/>
<rect x="1104" y="382" width="11" height="10" fill="#000"/>
<rect x="1105" y="383" width="9" height="8" fill="#ff0000"/>
<rect x="1125" y="278" width="1" height="110" fill="#000"/>
<rect x="1120" y="308" width="11" height="75" fill="#000"/>
<rect x="1121" y="309" width="9" height="73" fill="#ff0000"/>
<rect x="1141" y="306" width="1" height="49" fill="#000"/>
<rect x="1136" y="309" width="11" height="42" fill="#000"/>
<rect x="1137" y="310" width="9" height="40" fill="#00ff00"/>
<rect x="1157" y="338" width="1" height="23" fill="#000"/>
<rect x="1152" y="342" width="11" height="9" fill="#000"/>
<rect x="1153" y="343" width="9" height="7" fill="#ff0000"/>
<rect x="1173" y="335" width="1" height="26" fill="#000"/>
<rect x="1168" y="343" width="11" height="1" fill="#000"/>
<rect x="1189" y="325" width="1" height="29" fill="#000"/>
<rect x="1184" y="341" width="11" height="3" fill="#000"/>
<rect x="1185" y="342" width="9" height="1" fill="#ff0000"/>
<rect x="1205" y="332" width="1" height="54" fill="#000"/>
<rect x="1200" y="341" width="11" height="23" fill="#000"/>
<rect x="1201" y="342" width="9" height="21" fill="#00ff00"/>
<rect x="1221" y="352" width="1" height="72" fill="#000"/>
<rect x="1216" y="363" width="11" height="60" fill="#000"/>
<rect x="1217" y="364" width="9" height="58" fill="#00ff00"/>
<rect x="1237" y="416" width="1" height="41" fill="#000"/>
<rect x="1232" y="422" width="11" height="25" fill="#000"/>
<rect x="1233" y="423" width="9" height="23" fill="#00ff00"/>
<rect x="1253" y="440" width="1" height="19" fill="#000"/>
<rect x="1248" y="446" width="11" height="9" fill="#000"/>
<rect x="1249" y="447" width="9" height="7" fill="#00ff00"/>
</g>
<polygon points="1287,26 1298,26 1292.5,31.5" fill="#000"/>
<g class="cr">
<rect x="5" y="454" width="1611" height="1" fill="#000"/>
<rect x="5" y="363" width="1611" height="2" fill="#ff0000"/>
<rect x="4" y="361" width="6" height="6" fill="#ff0000"/>
<rect x="6" y="363" width="2" height="2" fill="#fff"/>
<rect x="1610" y="361" width="6" height="6" fill="#ff0000"/>
<rect x="1612" y="363" width="2" height="2" fill="#fff"/>
<rect x="5" y="401" width="1611" height="2" fill="#ff0000"/>
<rect x="4" y="399" width="6" height="6" fill="#ff0000"/>
<rect x="6" y="401" width="2" height="2" fill="#fff"/>
<rect x="1610" y="399" width="6" height="6" fill="#ff0000"/>
<rect x="1612" y="401" width="2" height="2" fill="#fff"/>
<rect x="5" y="443" width="1611" height="2" fill="#ffa500"/>
<rect x="4" y="441" width="6" height="6" fill="#ffa500"/>
<rect x="6" y="443" width="2" height="2" fill="#fff"/>
<rect x="1610" y="441" width="6" height="6" fill="#ffa500"/>
<rect x="1612" y="443" width="2" height="2" fill="#fff"/>
<rect x="5" y="487" width="1611" height="2" fill="#0000ff"/>
<rect x="4" y="485" width="6" height="6" fill="#0000ff"/>
<rect x="6" y="487" width="2" height="2" fill="#fff"/>
<rect x="1610" y="485" width="6" height="6" fill="#0000ff"/>
<rect x="1612" y="487" width="2" height="2" fill="#fff"/>
<rect x="5" y="528" width="1611" height="2" fill="#0000ff"/>
<rect x="4" y="526" width="6" height="6" fill="#0000ff"/>
<rect x="6" y="528" width="2" height="2" fill="#fff"/>
<rect x="1610" y="526" width="6" height="6" fill="#0000ff"/>
<rect x="1612" y="528" width="2" height="2" fill="#fff"/>
</g>
<g fill="#4f9a2f" stroke="none">
<line x1="1228.5" y1="333.5" x2="1362" y2="456.5" stroke="#4f9a2f" stroke-width="2.9"/>
<polygon points="1371.5,465.5 1353,460.5 1365.5,446.5"/>
</g>
<g class="cr">
<rect x="1618" y="358" width="41" height="11" fill="#ff0000"/>
<rect x="1618" y="396" width="41" height="11" fill="#ff0000"/>
<rect x="1618" y="438" width="41" height="11" fill="#ffa500"/>
<rect x="1618" y="482" width="41" height="11" fill="#0000ff"/>
<rect x="1618" y="523" width="41" height="11" fill="#0000ff"/>
<rect x="1618" y="449" width="41" height="11" fill="#000"/>
</g>
<g fill="#fff">
<text transform="translate(1621.5 366.9) scale(1 1.03)" font-size="9.3" fill="#fff" text-anchor="start">0.95984</text>
<text transform="translate(1621.5 404.9) scale(1 1.03)" font-size="9.3" fill="#fff" text-anchor="start">0.95755</text>
<text transform="translate(1621.5 446.9) scale(1 1.03)" font-size="9.3" fill="#fff" text-anchor="start">0.95502</text>
<text transform="translate(1621.5 490.9) scale(1 1.03)" font-size="9.3" fill="#fff" text-anchor="start">0.95237</text>
<text transform="translate(1621.5 531.9) scale(1 1.03)" font-size="9.3" fill="#fff" text-anchor="start">0.94990</text>
<text transform="translate(1621.5 457.9) scale(1 1.03)" font-size="9.3" fill="#fff" text-anchor="start">0.95442</text>
</g>
<polygon points="8,32 15.2,32 11.6,36.3" fill="#000"/>
<text transform="translate(20.6 37.1) scale(1 1.03)" font-size="9.3" fill="#000" text-anchor="start" letter-spacing="0.2">USDCHF-,H4</text>
<text transform="translate(84.0 37.1) scale(1 1.03)" font-size="9.0" fill="#000" text-anchor="start">0.95489</text>
<text transform="translate(120.1 37.1) scale(1 1.03)" font-size="9.0" fill="#000" text-anchor="start">0.95526</text>
<text transform="translate(156.2 37.1) scale(1 1.03)" font-size="9.0" fill="#000" text-anchor="start">0.95417</text>
<text transform="translate(192.2 37.1) scale(1 1.03)" font-size="9.0" fill="#000" text-anchor="start">0.95442</text>
<text transform="translate(9.1 607.1) scale(1 1.03)" font-size="9.3" fill="#000" text-anchor="start" letter-spacing="0.14">MACD(12,26,9)</text>
<text transform="translate(78.2 607.1) scale(1 1.03)" font-size="9.05" fill="#000" text-anchor="start">0.000360</text>
<text transform="translate(119.4 607.1) scale(1 1.03)" font-size="9.05" fill="#000" text-anchor="start">0.000910</text>
<text transform="translate(8.9 728.0) scale(1 1.03)" font-size="9.3" fill="#000" text-anchor="start">RSI(14) 43.6204</text>
<g class="cr">
<rect x="5" y="630" width="2" height="14" fill="#00ff00"/>
<rect x="20" y="630" width="3" height="13" fill="#00ff00"/>
<rect x="36" y="630" width="3" height="25" fill="#00ff00"/>
<rect x="52" y="630" width="3" height="38" fill="#00ff00"/>
<rect x="68" y="630" width="3" height="47" fill="#00ff00"/>
<rect x="84" y="630" width="3" height="52" fill="#00ff00"/>
<rect x="100" y="630" width="3" height="56" fill="#00ff00"/>
<rect x="116" y="630" width="3" height="59" fill="#00ff00"/>
<rect x="132" y="630" width="3" height="59" fill="#00ff00"/>
<rect x="148" y="630" width="3" height="57" fill="#00ff00"/>
<rect x="164" y="630" width="3" height="52" fill="#00ff00"/>
<rect x="180" y="630" width="3" height="47" fill="#00ff00"/>
<rect x="196" y="630" width="3" height="44" fill="#00ff00"/>
<rect x="212" y="630" width="3" height="43" fill="#00ff00"/>
<rect x="228" y="630" width="3" height="36" fill="#00ff00"/>
<rect x="244" y="630" width="3" height="32" fill="#00ff00"/>
<rect x="260" y="630" width="3" height="34" fill="#00ff00"/>
<rect x="276" y="630" width="3" height="38" fill="#00ff00"/>
<rect x="292" y="630" width="3" height="42" fill="#00ff00"/>
<rect x="308" y="630" width="3" height="43" fill="#00ff00"/>
<rect x="324" y="630" width="3" height="42" fill="#00ff00"/>
<rect x="340" y="630" width="3" height="47" fill="#00ff00"/>
<rect x="356" y="630" width="3" height="57" fill="#00ff00"/>
<rect x="372" y="630" width="3" height="60" fill="#00ff00"/>
<rect x="388" y="630" width="3" height="62" fill="#00ff00"/>
<rect x="404" y="630" width="3" height="63" fill="#00ff00"/>
<rect x="420" y="630" width="3" height="59" fill="#00ff00"/>
<rect x="436" y="630" width="3" height="58" fill="#00ff00"/>
<rect x="452" y="630" width="3" height="55" fill="#00ff00"/>
<rect x="468" y="630" width="3" height="53" fill="#00ff00"/>
<rect x="484" y="630" width="3" height="51" fill="#00ff00"/>
<rect x="500" y="630" width="3" height="49" fill="#00ff00"/>
<rect x="516" y="630" width="3" height="46" fill="#00ff00"/>
<rect x="532" y="630" width="3" height="44" fill="#00ff00"/>
<rect x="548" y="630" width="3" height="43" fill="#00ff00"/>
<rect x="564" y="630" width="3" height="43" fill="#00ff00"/>
<rect x="580" y="630" width="3" height="43" fill="#00ff00"/>
<rect x="596" y="630" width="3" height="44" fill="#00ff00"/>
<rect x="612" y="630" width="3" height="43" fill="#00ff00"/>
<rect x="628" y="630" width="3" height="42" fill="#00ff00"/>
<rect x="644" y="630" width="3" height="35" fill="#00ff00"/>
<rect x="660" y="630" width="3" height="41" fill="#00ff00"/>
<rect x="676" y="630" width="3" height="46" fill="#00ff00"/>
<rect x="692" y="630" width="3" height="48" fill="#00ff00"/>
<rect x="708" y="630" width="3" height="49" fill="#00ff00"/>
<rect x="724" y="630" width="3" height="43" fill="#00ff00"/>
<rect x="740" y="630" width="3" height="48" fill="#00ff00"/>
<rect x="756" y="630" width="3" height="54" fill="#00ff00"/>
<rect x="772" y="630" width="3" height="60" fill="#00ff00"/>
<rect x="788" y="630" width="3" height="67" fill="#00ff00"/>
<rect x="804" y="630" width="3" height="73" fill="#00ff00"/>
<rect x="820" y="630" width="3" height="72" fill="#00ff00"/>
<rect x="836" y="630" width="3" height="75" fill="#00ff00"/>
<rect x="852" y="630" width="3" height="76" fill="#00ff00"/>
<rect x="868" y="630" width="3" height="75" fill="#00ff00"/>
<rect x="884" y="630" width="3" height="75" fill="#00ff00"/>
<rect x="900" y="630" width="3" height="75" fill="#00ff00"/>
<rect x="916" y="630" width="3" height="76" fill="#00ff00"/>
<rect x="932" y="630" width="3" height="78" fill="#00ff00"/>
<rect x="948" y="630" width="3" height="75" fill="#00ff00"/>
<rect x="964" y="630" width="3" height="75" fill="#00ff00"/>
<rect x="980" y="630" width="3" height="72" fill="#00ff00"/>
<rect x="996" y="630" width="3" height="65" fill="#00ff00"/>
<rect x="1012" y="630" width="3" height="59" fill="#00ff00"/>
<rect x="1028" y="630" width="3" height="51" fill="#00ff00"/>
<rect x="1044" y="630" width="3" height="39" fill="#00ff00"/>
<rect x="1060" y="630" width="3" height="27" fill="#00ff00"/>
<rect x="1076" y="630" width="3" height="23" fill="#00ff00"/>
<rect x="1092" y="630" width="3" height="14" fill="#00ff00"/>
<rect x="1108" y="630" width="3" height="6" fill="#00ff00"/>
<rect x="1124" y="621" width="3" height="9" fill="#00ff00"/>
<rect x="1140" y="614" width="3" height="16" fill="#00ff00"/>
<rect x="1156" y="608" width="3" height="22" fill="#00ff00"/>
<rect x="1172" y="604" width="3" height="26" fill="#00ff00"/>
<rect x="1188" y="601" width="3" height="29" fill="#00ff00"/>
<rect x="1204" y="601" width="3" height="29" fill="#00ff00"/>
<rect x="1220" y="607" width="3" height="23" fill="#00ff00"/>
<rect x="1236" y="615" width="3" height="15" fill="#00ff00"/>
<rect x="1252" y="622" width="3" height="8" fill="#00ff00"/>
</g>
<polyline points="5.5,632.5 21.5,637 37.5,642 53.5,645.75 69.5,651.25 85.5,656.25 101.5,660 117.5,665 133.5,670 149.5,674.5 165.5,678.75 181.5,680.75 197.5,680.75 213.5,680.75 229.5,679 245.5,677 261.5,673.75 277.5,672 293.5,670.25 309.5,669 325.5,669 341.5,670 357.5,670 373.5,673.25 389.5,676.5 405.5,680.75 421.5,682.5 437.5,684.25 453.5,685.75 469.5,685.75 485.5,685.75 501.5,685.75 517.5,684 533.5,682 549.5,680 565.5,678.5 581.5,676.5 597.5,675 613.5,674 629.5,673 645.5,671.5 661.5,670.75 677.5,671.5 693.5,671.75 709.5,671.75 725.5,672.5 741.5,673.5 757.5,674 773.5,676.5 789.5,680.25 805.5,683.5 821.5,686.25 837.5,689.25 853.5,692.5 869.5,696.5 885.5,699.25 901.5,701.25 917.5,703.5 933.5,704.5 949.5,704.5 965.5,704.5 981.5,704.5 997.5,702.5 1013.5,701 1029.5,699 1045.5,695 1061.5,689.5 1077.5,683.75 1093.5,677 1109.5,670 1125.5,660 1141.5,650.6 1157.5,642 1173.5,633 1189.5,626.9 1205.5,620.6 1221.5,615 1237.5,612 1253.5,611" fill="none" stroke="#ff0000" stroke-width="2" stroke-linejoin="round"/>
<g class="cr" stroke="#000" stroke-width="1" stroke-dasharray="3 3">
<line x1="6" y1="737.5" x2="1616" y2="737.5"/>
<line x1="6" y1="767.5" x2="1616" y2="767.5"/>
<line x1="6" y1="802.5" x2="1616" y2="802.5"/>
</g>
<polyline points="5.5,769.5 21.5,769.5 37.5,787 53.5,790 69.5,788 85.5,784.5 101.5,785 117.5,787 133.5,781 149.5,780.75 165.5,773 181.5,773.75 197.5,774.25 213.5,777 229.5,767.5 245.5,769.25 261.5,778.75 277.5,782.5 293.5,782.75 309.5,776.75 325.5,775.75 341.5,782.75 357.5,788 373.5,782 389.5,781.75 405.5,781.75 421.5,776.5 437.5,777.75 453.5,775.75 469.5,776.75 485.5,776.75 501.5,776.75 517.5,775.25 533.5,775.25 549.5,778.5 565.5,779 581.5,780.75 597.5,780.75 613.5,780.75 629.5,779.75 645.5,768.5 661.5,783.75 677.5,783.75 693.5,783.75 709.5,782.5 725.5,770.25 741.5,781.5 757.5,784.5 773.5,785 789.5,789 805.5,789 821.5,781.75 837.5,784.75 853.5,784.5 869.5,781.75 885.5,783.75 901.5,783.75 917.5,786.75 933.5,786.75 949.5,783 965.5,782.75 981.5,782.75 997.5,775 1013.5,774.75 1029.5,769.5 1045.5,761 1061.5,759 1077.5,768 1093.5,760 1109.5,759.9 1125.5,752.9 1141.5,757.75 1157.5,757.6 1173.5,756.75 1189.5,756.75 1205.5,761.25 1221.5,770.6 1237.5,772.9 1253.5,772.9" fill="none" stroke="#1e90ff" stroke-width="2" stroke-linejoin="round"/>
</svg></body></html>
